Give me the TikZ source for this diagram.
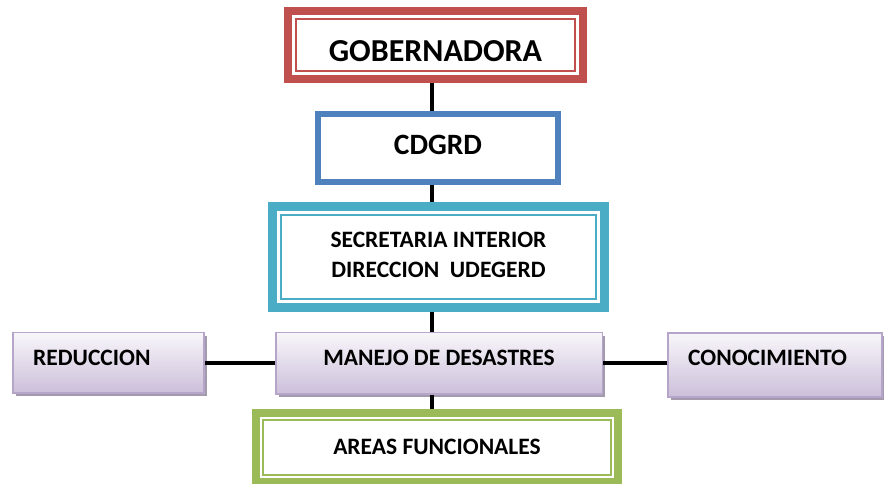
\documentclass[tikz,border=0pt]{standalone}
\usepackage{fontspec}
\setmainfont{Carlito}
\usetikzlibrary{positioning}
\usetikzlibrary{shadows}

\definecolor{gobred}{HTML}{C0504D}
\definecolor{cdgblue}{HTML}{4F81BD}
\definecolor{secteal}{HTML}{4BACC6}
\definecolor{aregreen}{HTML}{9BBB59}
\definecolor{lilaline}{HTML}{B5A5C9}
\definecolor{lilatop}{HTML}{F8F6FA}
\definecolor{lilabot}{HTML}{CCBFDA}
\definecolor{lilashade}{HTML}{A39AAE}

\begin{document}
\begin{tikzpicture}[x=1pt,y=1pt,
  box/.style={draw,inner sep=0pt},
  sidebox/.style={box,draw=lilaline,line width=1.5pt,top color=lilatop,bottom color=lilabot,
    drop shadow={shadow xshift=3pt,shadow yshift=-3pt,fill=lilashade,opacity=1}},
  big/.style={font=\bfseries\fontsize{32}{36}\selectfont,inner sep=0pt},
  lbl/.style={font=\bfseries\fontsize{23.5}{30}\selectfont,inner sep=0pt},
  link/.style={line width=3.5pt}]
\useasboundingbox (0,0) rectangle (884,484);

% boxes
\node[box,draw=gobred,line width=8pt,minimum width=295,minimum height=68] (gob) at (435.5,439) {};
\draw[gobred,line width=1.5pt] ([shift={(12,-12)}]gob.north west) rectangle ([shift={(-12,12)}]gob.south east);
\node[box,draw=cdgblue,line width=6.5pt,minimum width=240,minimum height=68] (cdg) at (438,336) {};
\node[box,draw=secteal,line width=9pt,minimum width=332,minimum height=101] (sec) at (438.5,227) {};
\draw[secteal,line width=1.5pt] ([shift={(13,-13)}]sec.north west) rectangle ([shift={(-13,13)}]sec.south east);
\node[sidebox,minimum width=326.5,minimum height=61.5] (man) at (439,120.5) {};
\node[sidebox,minimum width=191,minimum height=60.5] (red) at (108.5,121) {};
\node[sidebox,minimum width=214,minimum height=64] (con) at (775,119) {};
\node[box,draw=aregreen,line width=8pt,minimum width=362,minimum height=69] (are) at (437,36.5) {};
\draw[aregreen,line width=1.5pt] ([shift={(11,-11)}]are.north west) rectangle ([shift={(-11,11)}]are.south east);

% texts
\node[big,anchor=base] (gobT) at (435.5,422) {GOBERNADORA};
\node[big,anchor=base,font=\bfseries\fontsize{29.5}{36}\selectfont] (cdgT) at (438,329) {CDGRD};
\node[lbl,align=center] (secT) at (438.5,229) {SECRETARIA INTERIOR\\DIRECCION\ \ UDEGERD};
\node[lbl,anchor=base] (manT) at (439,118.3) {MANEJO DE DESASTRES};
\node[lbl,anchor=base west] (redT) at (33,118.3) {REDUCCION};
\node[lbl,anchor=base west] (conT) at (688,118.3) {CONOCIMIENTO};
\node[lbl,anchor=base] (areT) at (437,29) {AREAS FUNCIONALES};

% connectors
\coordinate (spine) at (432,0);
\draw[link] (gob.south -| spine) -- (cdg.north -| spine);
\draw[link] (cdg.south -| spine) -- (sec.north -| spine);
\draw[link] (sec.south -| spine) -- (man.north -| spine);
\draw[link] (man.south -| spine) -- (are.north -| spine);
\draw[link] (red.east |- 0,121) -- (man.west |- 0,121);
\draw[link] (man.east |- 0,121) -- (con.west |- 0,121);

\end{tikzpicture}
\end{document}
